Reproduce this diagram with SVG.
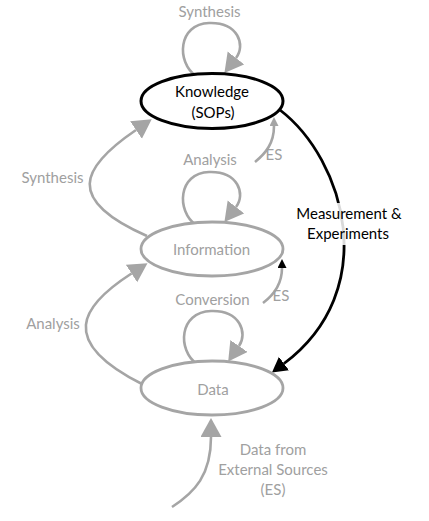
<svg xmlns="http://www.w3.org/2000/svg" width="429" height="521" viewBox="0 0 429 521">
  <style>
    .g { fill: none; stroke: #a5a5a5; stroke-width: 2.6; }
    .b { fill: none; stroke: #000; stroke-width: 2.8; }
    .tg { font-family: Lato, "Liberation Sans", sans-serif; font-size: 15px; fill: #a0a0a0; text-anchor: middle; }
    .tb { font-family: Lato, "Liberation Sans", sans-serif; font-size: 15px; fill: #000; text-anchor: middle; }
    .node { fill: #fff; stroke: #a5a5a5; stroke-width: 2.8; }
    .nodeb { fill: #fff; stroke: #000; stroke-width: 3; }
  </style>
  <defs>
    <marker id="ag" markerUnits="userSpaceOnUse" markerWidth="20" markerHeight="22" refX="0" refY="10.5" orient="auto">
      <path d="M0,0 L19,10.5 L0,21 z" fill="#a5a5a5"/>
    </marker>
    <marker id="ab" markerUnits="userSpaceOnUse" markerWidth="16" markerHeight="18" refX="0" refY="8.5" orient="auto">
      <path d="M0,0 L15,8.5 L0,17 z" fill="#000"/>
    </marker>
    <marker id="asg" markerUnits="userSpaceOnUse" markerWidth="10" markerHeight="10" refX="0" refY="4.5" orient="auto">
      <path d="M0,0 L9,4.5 L0,9 z" fill="#a5a5a5"/>
    </marker>
    <marker id="asb" markerUnits="userSpaceOnUse" markerWidth="10" markerHeight="10" refX="0" refY="4.5" orient="auto">
      <path d="M0,0 L9,4.5 L0,9 z" fill="#000"/>
    </marker>
  </defs>

  <g id="connectors">
    <!-- Knowledge self loop (Synthesis) -->
    <path class="g" marker-end="url(#ag)" d="M196,76 C176,62 178,24 209,23 C238,22 246,45 236,58"/>
    <text class="tg" x="209.5" y="17">Synthesis</text>

    <!-- Information self loop (Analysis) -->
    <path class="g" marker-end="url(#ag)" d="M196,225 C176,211 178,173 209,172 C238,171 246,194 236,207"/>
    <text class="tg" x="210" y="165">Analysis</text>

    <!-- Data self loop (Conversion) -->
    <path class="g" marker-end="url(#ag)" d="M197,364 C177,350 179,312 211,311 C240,310 248,333 239,346"/>
    <text class="tg" x="212.5" y="305">Conversion</text>

    <!-- Information -> Knowledge (Synthesis) -->
    <path class="g" marker-end="url(#ag)" d="M147,236 C65,200 80,168 136,130"/>
    <text class="tg" x="52.5" y="183">Synthesis</text>

    <!-- Data -> Information (Analysis) -->
    <path class="g" marker-end="url(#ag)" d="M142,384 C57,341 81,306 131.5,273.5"/>
    <text class="tg" x="53" y="329">Analysis</text>

    <!-- ES -> Knowledge -->
    <path class="g" stroke-width="1.6" marker-end="url(#asg)" d="M255,162 C266,153 274,143 274,126"/>
    <text class="tg" x="274" y="160">ES</text>

    <!-- ES -> Information -->
    <path class="g" stroke-width="1.6" marker-end="url(#asb)" d="M263,303 C275,294 282,283 282,268"/>
    <text class="tg" x="281" y="301">ES</text>

    <!-- External sources -> Data -->
    <path class="g" marker-end="url(#ag)" d="M172,507 C195,492 211,475 211,437"/>
    <text class="tg" x="273" y="455">Data from</text>
    <text class="tg" x="273" y="475">External Sources</text>
    <text class="tg" x="273" y="495">(ES)</text>

    <!-- Knowledge -> Data (Measurement & Experiments) -->
    <path class="b" marker-end="url(#ab)" d="M280,110 C345,160 382,290 284,363.5"/>
    <rect x="293" y="203" width="112" height="42" fill="#fff" fill-opacity="0.85"/>
    <text class="tb" x="349" y="219">Measurement &amp;</text>
    <text class="tb" x="348" y="239">Experiments</text>
  </g>

  <g id="knowledge">
    <ellipse class="nodeb" cx="212" cy="101" rx="71" ry="27.5"/>
    <text class="tb" x="212" y="97">Knowledge</text>
    <text class="tb" x="213" y="118">(SOPs)</text>
  </g>

  <g id="information">
    <ellipse class="node" cx="212" cy="249" rx="71" ry="27"/>
    <text class="tg" x="211.5" y="255">Information</text>
  </g>

  <g id="data">
    <ellipse class="node" cx="212" cy="388" rx="71" ry="27"/>
    <text class="tg" x="213" y="395">Data</text>
  </g>
</svg>
